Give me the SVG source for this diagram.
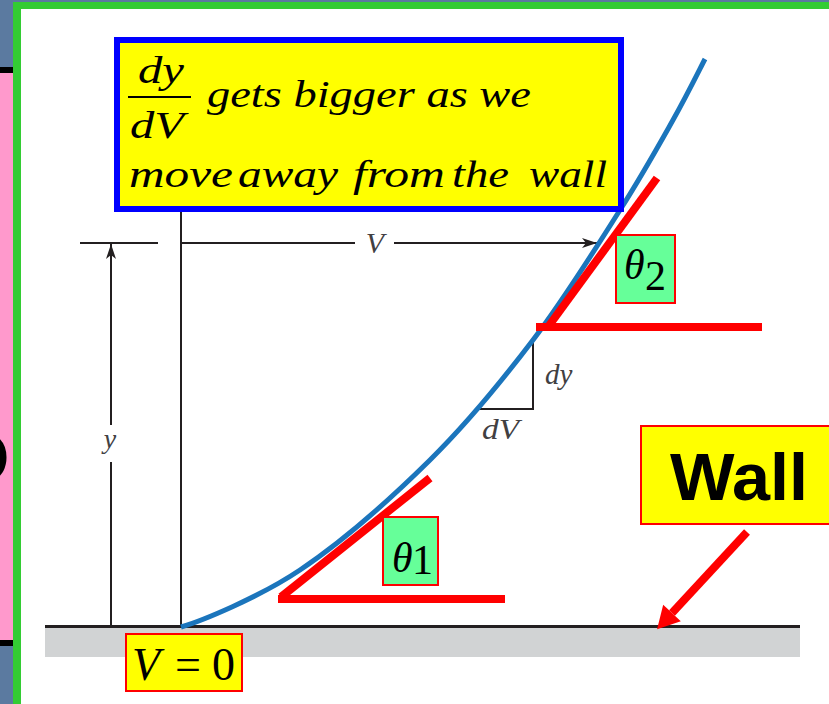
<svg xmlns="http://www.w3.org/2000/svg" width="829" height="704" viewBox="0 0 829 704">
  <style>
    .serif { font-family: "Liberation Serif", "Times New Roman", serif; }
    .it { font-style: italic; }
    .dim { stroke: #231f20; stroke-width: 2; fill: none; }
    .lbl { fill: #414042; font-family: "Liberation Serif", "Times New Roman", serif; font-style: italic; }
    .red { stroke: #ff0000; stroke-width: 8; fill: none; }
    .tag { stroke: #ff0000; stroke-width: 2; }
  </style>
  <defs>
    <marker id="dimArrow" markerUnits="userSpaceOnUse" markerWidth="20" markerHeight="14" viewBox="-16 -7 18 14" refX="0" refY="0" orient="auto" overflow="visible">
      <path d="M0,0 L-15,-5 L-11,0 L-15,5 Z" fill="#231f20"/>
    </marker>
    <marker id="redArrow" markerUnits="userSpaceOnUse" markerWidth="26" markerHeight="28" viewBox="0 -14 26 28" refX="0" refY="0" orient="auto" overflow="visible">
      <path d="M22,0 L0,-12 L0,12 Z" fill="#ff0000"/>
    </marker>
    <clipPath id="leftClip"><rect x="0" y="73" width="13" height="567"/></clipPath>
  </defs>

  <!-- background slide fragments -->
  <rect x="0" y="0" width="829" height="704" fill="#5b7aa0"/>
  <rect x="0" y="73" width="13" height="567" fill="#ff99cc"/>
  <rect x="0" y="67" width="13" height="6" fill="#000000"/>
  <rect x="0" y="640" width="13" height="6" fill="#000000"/>
  <text x="-45" y="482" font-family="Liberation Sans, Arial, sans-serif" font-weight="bold" font-size="70" fill="#000000" clip-path="url(#leftClip)">O</text>

  <!-- frame -->
  <rect x="13" y="2" width="830" height="710" fill="#33cc33"/>
  <rect x="21" y="9" width="820" height="700" fill="#ffffff"/>

  <!-- ground -->
  <g id="ground">
    <rect x="45" y="628" width="755" height="29" fill="#d1d3d4"/>
    <line x1="45" y1="626.5" x2="800" y2="626.5" stroke="#231f20" stroke-width="3"/>
  </g>

  <!-- dimension lines -->
  <g id="connectors">
    <line class="dim" x1="181" y1="212" x2="181" y2="627"/>
    <line class="dim" x1="80" y1="243" x2="158" y2="243"/>
    <line class="dim" x1="181" y1="243" x2="355" y2="243"/>
    <line class="dim" x1="394" y1="243" x2="597" y2="243" marker-end="url(#dimArrow)"/>
    <line class="dim" x1="111" y1="627" x2="111" y2="462"/>
    <line class="dim" x1="111" y1="425" x2="111" y2="244" marker-end="url(#dimArrow)"/>
    <polyline class="dim" points="476,409 533,409 533,340"/>
    <line x1="747" y1="532" x2="672" y2="613" stroke="#ff0000" stroke-width="8" marker-end="url(#redArrow)"/>
  </g>

  <g id="dim-labels">
    <text class="lbl" x="375" y="253" font-size="30" text-anchor="middle">V</text>
    <text class="lbl" x="110" y="448" font-size="28" text-anchor="middle">y</text>
    <text class="lbl" x="545" y="384" font-size="29">dy</text>
    <text class="lbl" x="482" y="439" font-size="29" textLength="37" lengthAdjust="spacingAndGlyphs">dV</text>
  </g>

  <!-- velocity profile curve -->
  <g id="profile">
    <path d="M181,627 C201,621 258.5,597.8 300,570 C341.5,542.2 391.2,498.3 430,460 C468.8,421.7 501.3,381.7 533,340 C564.7,298.3 596.7,246.7 620,210 C643.3,173.3 658.8,145.2 673,120 C687.2,94.8 699.7,69.2 705,59" fill="none" stroke="#1b75bc" stroke-width="5"/>
  </g>

  <!-- tangent angle markers -->
  <g id="theta2-lines">
    <line class="red" x1="657" y1="178" x2="548" y2="327"/>
    <line class="red" x1="536" y1="327" x2="762" y2="327"/>
  </g>
  <g id="theta1-lines">
    <line class="red" x1="430" y1="478" x2="281" y2="597"/>
    <line class="red" x1="278" y1="599" x2="505" y2="599"/>
  </g>

  <!-- annotation box -->
  <g id="note-box">
    <rect x="117" y="40" width="504" height="169" fill="#ffff00" stroke="#0000ff" stroke-width="6"/>
    <text class="serif it" x="138" y="83" font-size="37" textLength="46" lengthAdjust="spacingAndGlyphs">dy</text>
    <line x1="128" y1="97" x2="191" y2="97" stroke="#000000" stroke-width="2"/>
    <text class="serif it" x="130" y="138" font-size="37" textLength="54" lengthAdjust="spacingAndGlyphs">dV</text>
    <text class="serif it" x="207" y="107" font-size="38" textLength="324" lengthAdjust="spacingAndGlyphs">gets bigger as we</text>
    <text class="serif it" x="129" y="187" font-size="38" textLength="104" lengthAdjust="spacingAndGlyphs">move</text>
    <text class="serif it" x="238" y="187" font-size="38" textLength="100" lengthAdjust="spacingAndGlyphs">away</text>
    <text class="serif it" x="353" y="187" font-size="38" textLength="92" lengthAdjust="spacingAndGlyphs">from</text>
    <text class="serif it" x="452" y="187" font-size="38" textLength="57" lengthAdjust="spacingAndGlyphs">the</text>
    <text class="serif it" x="529" y="187" font-size="38" textLength="78" lengthAdjust="spacingAndGlyphs">wall</text>
  </g>

  <g id="theta2">
    <rect class="tag" x="616" y="235" width="59" height="68" fill="#66ff99"/>
    <text class="serif it" x="624" y="279" font-size="42">θ</text>
    <text class="serif" x="645" y="290" font-size="42">2</text>
  </g>

  <g id="theta1">
    <rect class="tag" x="383" y="517" width="55" height="68" fill="#66ff99"/>
    <text class="serif it" x="392" y="572" font-size="42">θ</text>
    <text class="serif" x="412" y="574" font-size="42">1</text>
  </g>

  <g id="wall-label">
    <rect class="tag" x="641" y="426" width="200" height="98" fill="#ffff00"/>
    <text x="670" y="500" font-family="Liberation Sans, Arial, sans-serif" font-weight="bold" font-size="67" fill="#000000" textLength="138" lengthAdjust="spacingAndGlyphs">Wall</text>
  </g>

  <g id="v-zero">
    <rect class="tag" x="126" y="634" width="116" height="57" fill="#ffff00"/>
    <text class="serif it" x="132" y="680" font-size="46">V</text>
    <text class="serif" x="175" y="680" font-size="46">=</text>
    <text class="serif" x="212" y="680" font-size="46">0</text>
  </g>
</svg>
